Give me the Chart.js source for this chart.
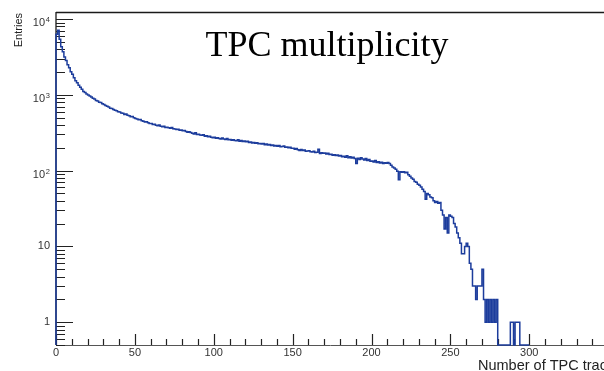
<!DOCTYPE html>
<html><head><meta charset="utf-8">
<script src="https://cdn.jsdelivr.net/npm/chart.js@4"></script>
<style>
html,body{margin:0;padding:0;background:#fff;overflow:hidden;width:604px;height:371px}
#wrap{position:relative;width:612px;height:371px}
canvas{display:block}
</style></head>
<body><div id="wrap"><canvas id="c" width="612" height="371"></canvas></div>
<script>
// ---- data ----
const chartTitle = 'TPC multiplicity';
const xTitle = 'Number of TPC tracks';
const yTitle = 'Entries';
const binStart = 0;
const binWidth = 1;
const counts = [
  6300, 7100, 5400, 4300, 3700, 3150, 2850, 2500, 2280, 2020,
  1870, 1680, 1530, 1450, 1340, 1260, 1190, 1110, 1075, 1030,
  995, 965, 940, 905, 880, 845, 830, 800, 790, 762,
  745, 722, 705, 690, 668, 660, 640, 628, 615, 598,
  592, 578, 570, 552, 560, 538, 531, 515, 520, 498,
  488, 480, 470, 472, 455, 450, 438, 442, 428, 420,
  418, 405, 410, 398, 392, 400, 384, 380, 386, 372,
  375, 368, 362, 370, 358, 355, 348, 352, 340, 345,
  335, 338, 328, 322, 325, 318, 312, 305, 315, 300,
  302, 296, 292, 298, 285, 288, 280, 284, 275, 272,
  276, 268, 272, 265, 262, 270, 262, 258, 265, 255,
  258, 252, 256, 250, 248, 255, 245, 249, 242, 246,
  240, 244, 236, 238, 232, 235, 230, 234, 226, 228,
  225, 228, 220, 224, 218, 222, 215, 218, 212, 215,
  210, 214, 206, 208, 212, 203, 205, 200, 204, 198,
  197, 192, 196, 188, 185, 190, 184, 187, 180, 182,
  183, 178, 176, 180, 173, 175, 192, 168, 172, 170,
  171, 166, 169, 163, 165, 160, 162, 158, 161, 156,
  158, 153, 155, 150, 157, 148, 152, 147, 150, 145,
  124, 146, 140, 148, 142, 138, 145, 136, 140, 133,
  134, 130, 136, 128, 131, 126, 129, 124, 127, 125,
  128, 124, 118, 112, 108, 104, 98, 76, 97, 95,
  97, 94, 95, 88, 84, 80, 77, 72, 70, 66,
  64, 61, 57, 53, 42, 50, 48, 45, 44, 40,
  38, 39, 37, 38, 30, 26, 17, 24, 15, 26,
  25, 24, 20, 18, 15, 13, 11, 8, 8, 10,
  11, 10, 6, 5, 3, 3, 2, 3, 3, 3,
  5, 2, 1, 2, 1, 2, 1, 2, 1, 2,
  0, 0, 0, 0, 0, 0, 0, 0, 1, 1,
  0, 1, 1, 1, 0, 0, 0, 0, 0, 0
];
const xMin = 0, xMax = 348;
const yMin = 0.5, yMax = 12400;
const xTickValues = [0, 50, 100, 150, 200, 250, 300];
const xTickLabels = ['0', '50', '100', '150', '200', '250', '300'];
const yTickValues = [1, 10, 100, 1000, 10000];
const yTickBase = ['1', '10', '10', '10', '10'];
const yTickExp  = ['', '', '2', '3', '4'];

// ---- build histogram outline points ----
const pts = [{x: binStart, y: yMin}];
counts.forEach((c, i) => pts.push({x: binStart + i * binWidth, y: c > 0 ? c : yMin}));
pts.push({x: binStart + counts.length * binWidth, y: yMin});

const SANS = '"Liberation Sans", Arial, Helvetica, sans-serif';

const rootFrame = {
  id: 'rootFrame',
  beforeDatasetsDraw(chart) {
    const {ctx, chartArea: a, scales: {x, y}} = chart;
    ctx.save();
    ctx.strokeStyle = '#555'; ctx.lineWidth = 1;
    ctx.beginPath(); ctx.moveTo(a.left, a.bottom + 0.5); ctx.lineTo(a.right, a.bottom + 0.5); ctx.stroke();
    ctx.strokeStyle = '#1a1a1a'; ctx.lineWidth = 1.3;
    ctx.beginPath(); ctx.moveTo(a.left, a.top); ctx.lineTo(a.left, a.bottom); ctx.stroke();
    ctx.beginPath(); ctx.moveTo(a.left, a.top + 0.5); ctx.lineTo(a.right + 10, a.top + 0.5); ctx.stroke();
    ctx.strokeStyle = '#222'; ctx.lineWidth = 1.2;
    ctx.beginPath();
    for (let v = xMin; v <= xMax; v += 10) {
      const px = Math.round(x.getPixelForValue(v)) + 0.5;
      const len = v % 50 === 0 ? 11 : 6;
      ctx.moveTo(px, a.bottom); ctx.lineTo(px, a.bottom - len);
    }
    for (let d = -1; d <= 4; d++) {
      for (let m = 1; m <= 9; m++) {
        const v = m * Math.pow(10, d);
        if (v < yMin || v > yMax) continue;
        const py = Math.round(y.getPixelForValue(v)) + 0.5;
        const len = m === 1 ? 17 : 9;
        ctx.moveTo(a.left, py); ctx.lineTo(a.left + len, py);
      }
    }
    ctx.stroke();
    ctx.restore();
  },
  afterDraw(chart) {
    const {ctx, chartArea: a, scales: {x, y}} = chart;
    ctx.save();
    ctx.fillStyle = '#333';
    ctx.font = '11px ' + SANS;
    ctx.textAlign = 'center'; ctx.textBaseline = 'middle';
    xTickValues.forEach((v, i) => ctx.fillText(xTickLabels[i], x.getPixelForValue(v), 353));
    yTickValues.forEach((v, i) => {
      const py = y.getPixelForValue(v);
      if (yTickExp[i]) {
        ctx.font = '11px ' + SANS; ctx.textAlign = 'right'; ctx.textBaseline = 'alphabetic';
        ctx.fillText(yTickBase[i], 45, py + 7);
        ctx.font = '7.5px ' + SANS;
        ctx.fillText(yTickExp[i], 50, py + 3);
      } else {
        ctx.font = '11px ' + SANS; ctx.textAlign = 'right'; ctx.textBaseline = 'middle';
        ctx.fillText(yTickBase[i], 50, py);
      }
    });
    ctx.fillStyle = '#222';
    ctx.font = '14.5px ' + SANS;
    ctx.textAlign = 'left'; ctx.textBaseline = 'alphabetic';
    ctx.fillText(xTitle, 478, 370);
    ctx.save();
    ctx.translate(22, a.top + 1);
    ctx.rotate(-Math.PI / 2);
    ctx.font = '11px ' + SANS;
    ctx.textAlign = 'right';
    ctx.fillText(yTitle, 0, 0);
    ctx.restore();
    ctx.fillStyle = '#000';
    ctx.font = '36px "Liberation Serif", "Times New Roman", serif';
    ctx.textAlign = 'center'; ctx.textBaseline = 'alphabetic';
    ctx.fillText(chartTitle, 327, 56);
    ctx.restore();
  }
};

new Chart(document.getElementById('c'), {
  type: 'line',
  data: {
    datasets: [{
      data: pts,
      stepped: true,
      borderColor: '#1c3c9c',
      borderWidth: 1.5,
      pointRadius: 0,
      fill: false,
      tension: 0,
      clip: 3
    }]
  },
  options: {
    responsive: false,
    animation: false,
    events: [],
    layout: {padding: {top: 12, right: 7, left: 0, bottom: 0}},
    plugins: {legend: {display: false}, tooltip: {enabled: false}, title: {display: false}},
    scales: {
      x: {
        type: 'linear', min: xMin, max: xMax, bounds: 'data',
        grid: {display: false, drawTicks: false},
        border: {display: false},
        ticks: {display: false},
        afterFit(s) { s.height = 26; }
      },
      y: {
        type: 'logarithmic', min: yMin, max: yMax, bounds: 'data',
        grid: {display: false, drawTicks: false},
        border: {display: false},
        ticks: {display: false},
        afterFit(s) { s.width = 56; }
      }
    }
  },
  plugins: [rootFrame]
});
</script>
</body></html>
